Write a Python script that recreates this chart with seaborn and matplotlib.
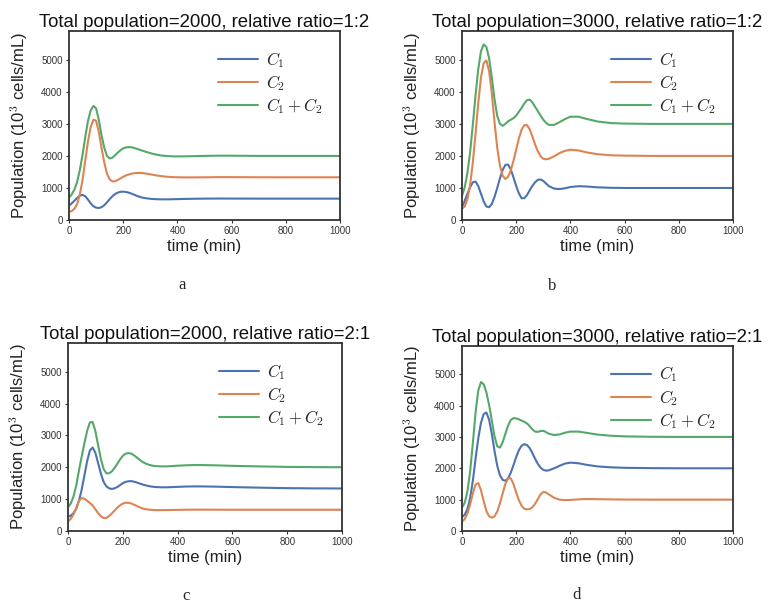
import numpy as np
import pandas as pd
import matplotlib
matplotlib.use("Agg")
import matplotlib.pyplot as plt
import seaborn as sns

# ---------------- data ----------------
time = [0, 10, 20, 30, 40, 50, 60, 70, 80, 90, 100, 110, 120, 130, 140, 150, 160,
        170, 180, 190, 200, 210, 220, 230, 240, 250, 260, 270, 280, 290, 300, 310,
        320, 340, 360, 380, 400, 430, 460, 500, 550, 600, 700, 800, 900, 1000]

# panel a: total 2000, ratio 1:2
a_c1 = [450, 520, 600, 690, 760, 785, 740, 640, 520, 430, 385, 375, 400, 460, 550, 650, 740,
        810, 855, 880, 885, 875, 855, 825, 790, 755, 725, 700, 685, 672, 662, 655,
        650, 645, 645, 648, 652, 658, 663, 667, 670, 669, 667, 667, 667, 667]
a_c2 = [250, 280, 350, 500, 800, 1250, 1850, 2450, 2900, 3130, 3100, 2750, 2250, 1800, 1450, 1270, 1205,
        1210, 1250, 1300, 1350, 1390, 1420, 1445, 1460, 1468, 1470, 1465, 1455, 1440, 1425, 1410,
        1395, 1370, 1352, 1340, 1333, 1330, 1330, 1333, 1338, 1338, 1334, 1333, 1333, 1333]
a_sum = [700, 800, 950, 1190, 1560, 2035, 2590, 3090, 3420, 3560, 3485, 3125, 2650, 2260, 2000, 1920, 1945,
         2020, 2105, 2180, 2235, 2265, 2275, 2270, 2250, 2223, 2195, 2165, 2140, 2112, 2087, 2065,
         2045, 2015, 1997, 1988, 1985, 1988, 1993, 2000, 2008, 2007, 2001, 2000, 2000, 2000]

# panel b: total 3000, ratio 1:2
b_c1 = [400, 600, 820, 1020, 1180, 1200, 1060, 820, 580, 420, 400, 500, 720, 1000, 1300, 1560, 1720,
        1730, 1580, 1330, 1060, 830, 680, 680, 780, 930, 1070, 1180, 1255, 1265, 1220, 1140,
        1060, 980, 965, 990, 1030, 1055, 1045, 1020, 1005, 1000, 1000, 1000, 1000, 1000]
b_c2 = [350, 420, 650, 1100, 1800, 2700, 3650, 4450, 4900, 4980, 4650, 3950, 3050, 2250, 1700, 1380, 1280,
        1350, 1550, 1850, 2200, 2550, 2820, 2960, 2960, 2830, 2600, 2350, 2140, 1990, 1910, 1895,
        1910, 1990, 2090, 2160, 2195, 2170, 2110, 2055, 2020, 2010, 2000, 2000, 2000, 2000]
b_sum = [750, 1020, 1470, 2120, 2980, 3900, 4710, 5270, 5480, 5400, 5050, 4450, 3770, 3250, 3000, 2940, 3000,
         3080, 3130, 3180, 3260, 3380, 3500, 3640, 3740, 3760, 3670, 3530, 3395, 3255, 3130, 3035,
         2970, 2970, 3055, 3150, 3225, 3225, 3155, 3075, 3025, 3010, 3000, 3000, 3000, 3000]

# panel c: total 2000, ratio 2:1
c_c1 = [450, 480, 560, 700, 950, 1300, 1750, 2200, 2530, 2620, 2450, 2130, 1800, 1540, 1400, 1340, 1320,
        1340, 1380, 1440, 1500, 1540, 1560, 1565, 1550, 1525, 1495, 1465, 1440, 1420, 1400, 1388,
        1380, 1372, 1372, 1378, 1385, 1395, 1400, 1398, 1390, 1378, 1360, 1345, 1338, 1335]
c_c2 = [300, 380, 520, 720, 950, 1035, 1010, 950, 880, 800, 680, 560, 460, 405, 410, 470, 550,
        640, 730, 805, 860, 885, 885, 865, 830, 790, 750, 715, 690, 675, 667, 660,
        657, 655, 657, 660, 664, 667, 670, 670, 668, 667, 667, 667, 667, 667]
c_sum = [750, 860, 1080, 1420, 1900, 2335, 2760, 3150, 3410, 3420, 3130, 2690, 2260, 1945, 1810, 1810, 1870,
         1980, 2110, 2245, 2360, 2425, 2445, 2430, 2380, 2315, 2245, 2180, 2130, 2095, 2067, 2048,
         2037, 2027, 2029, 2038, 2049, 2062, 2070, 2068, 2058, 2045, 2027, 2012, 2005, 2002]

# panel d: total 3000, ratio 2:1
d_c1 = [450, 520, 700, 1050, 1600, 2300, 2950, 3450, 3730, 3780, 3550, 3100, 2550, 2080, 1780, 1630, 1600,
        1680, 1860, 2100, 2360, 2580, 2720, 2770, 2740, 2640, 2480, 2300, 2140, 2020, 1950, 1925,
        1935, 2000, 2080, 2150, 2180, 2160, 2110, 2060, 2030, 2015, 2005, 2000, 2000, 2000]
d_c2 = [300, 380, 560, 850, 1200, 1480, 1530, 1300, 950, 640, 470, 425, 470, 620, 880, 1200, 1500,
        1680, 1680, 1500, 1230, 980, 800, 710, 690, 700, 760, 870, 1020, 1170, 1245, 1230,
        1170, 1060, 1000, 985, 990, 1010, 1020, 1015, 1008, 1003, 1000, 1000, 1000, 1000]
d_sum = [750, 900, 1260, 1900, 2800, 3780, 4480, 4750, 4680, 4420, 4020, 3525, 3020, 2700, 2660, 2830, 3100,
         3360, 3540, 3600, 3590, 3560, 3520, 3480, 3430, 3340, 3240, 3170, 3160, 3190, 3195, 3155,
         3105, 3060, 3080, 3135, 3170, 3170, 3130, 3075, 3038, 3018, 3005, 3000, 3000, 3000]

titles = ["Total population=2000, relative ratio=1:2",
          "Total population=3000, relative ratio=1:2",
          "Total population=2000, relative ratio=2:1",
          "Total population=3000, relative ratio=2:1"]
captions = ["a", "b", "c", "d"]
series_labels = [r"$C_1$", r"$C_2$", r"$C_1 + C_2$"]
x_ticks = [0, 200, 400, 600, 800, 1000]
y_ticks = [0, 1000, 2000, 3000, 4000, 5000]

panels = [(a_c1, a_c2, a_sum), (b_c1, b_c2, b_sum),
          (c_c1, c_c2, c_sum), (d_c1, d_c2, d_sum)]

# ---------------- style ----------------
sns.set_theme(style="ticks")
plt.rcParams["font.family"] = ["Liberation Sans", "DejaVu Sans"]
plt.rcParams["mathtext.fontset"] = "cm"
colors = sns.color_palette("deep")[:3]

fig = plt.figure(figsize=(7.68, 6.07), dpi=100)

W, H = 768.0, 607.0
boxes = [(69, 340, 31, 220), (462, 733, 31, 220),
         (68, 342, 343, 531), (462, 733, 346, 531)]
caption_pos = [(182, 285), (552, 286), (186, 596), (577, 595)]

for i, ((s1, s2, s3), (l, r, t, b)) in enumerate(zip(panels, boxes)):
    ax = fig.add_axes([l / W, 1 - b / H, (r - l) / W, (b - t) / H])
    df = pd.DataFrame({"time": time, "c1": s1, "c2": s2, "sum": s3})
    for col, lab, colr in zip(["c1", "c2", "sum"], series_labels, colors):
        sns.lineplot(data=df, x="time", y=col, ax=ax, color=colr, lw=1.5,
                     label=lab, legend=False)
    ax.set_xlim(0, 1000)
    ax.set_ylim(0, 5900)
    ax.set_xticks(x_ticks)
    ax.set_yticks(y_ticks)
    ax.tick_params(labelsize=7, length=2.5, width=0.8, pad=2, colors="#333333")
    for sp in ax.spines.values():
        sp.set_visible(True)
        sp.set_color("#333333")
        sp.set_linewidth(1.3)
    ax.set_xlabel("time (min)", fontsize=12, labelpad=2, color="#222222")
    ax.set_ylabel("Population (10$^3$ cells/mL)", fontsize=12, labelpad=8,
                  color="#222222")
    ax.set_title(titles[i], fontsize=13.4, pad=3, color="#111111")
    ax.legend(loc="upper left", bbox_to_anchor=(0.55, 0.9), frameon=False,
              fontsize=12, handlelength=2.4, handletextpad=0.5,
              labelspacing=0.2, borderpad=0, borderaxespad=0)
    cx, cy = caption_pos[i]
    fig.text(cx / W, 1 - cy / H, captions[i], fontsize=12, ha="center",
             va="center", family="Liberation Serif")

fig.savefig("out.png", dpi=100)
